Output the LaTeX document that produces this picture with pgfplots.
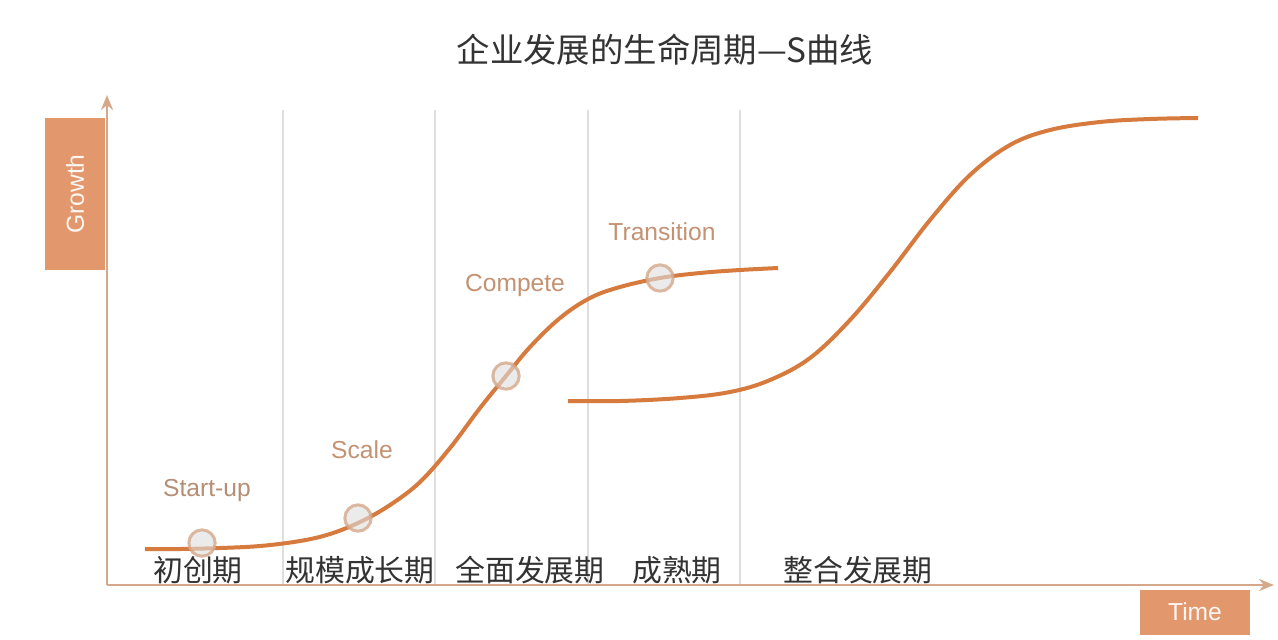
\documentclass[border=0pt]{standalone}
\usepackage{fontspec}
\setmainfont{Noto Sans CJK SC}
\newfontfamily\latin{Liberation Sans}
\usepackage{pgfplots}
\pgfplotsset{compat=1.18}
\usetikzlibrary{arrows.meta}
\definecolor{curve}{RGB}{214,122,62}
\definecolor{axisc}{RGB}{214,168,138}
\definecolor{boxc}{RGB}{226,152,108}
\definecolor{lab}{RGB}{196,146,114}
\definecolor{sep}{RGB}{222,222,222}
\begin{document}
\begin{tikzpicture}
\begin{axis}[
  scale only axis, width=255.6mm, height=127.8mm,
  xmin=0, xmax=1278, ymin=0, ymax=639, y dir=reverse,
  hide axis, clip=false,
]
% background to fix bounding box
\fill[white] (axis cs:0,0) rectangle (axis cs:1278,639);
% separators
\foreach \xx in {283,435,588,740} {
  \edef\tmp{\noexpand\draw[sep, line width=0.4mm] (axis cs:\xx,110) -- (axis cs:\xx,585);}\tmp
}
% axes
\draw[axisc, line width=0.5mm, -{Stealth[length=3mm,width=2.4mm]}] (axis cs:107,585) -- (axis cs:107,95);
\draw[axisc, line width=0.5mm, -{Stealth[length=3mm,width=2.4mm]}] (axis cs:107,585) -- (axis cs:1274,585);
% boxes
\fill[boxc] (axis cs:45,118) rectangle (axis cs:105,270);
\node[rotate=90, text=white!92!boxc, font=\latin\fontsize{14}{16}\selectfont] at (axis cs:75,194) {Growth};
\fill[boxc] (axis cs:1140,590) rectangle (axis cs:1250,635);
\node[text=white!92!boxc, font=\latin\fontsize{14}{16}\selectfont] at (axis cs:1195,612) {Time};
% title
\node[text=black!80, font=\fontsize{19}{22}\selectfont] at (axis cs:665,50) {企业发展的生命周期—S曲线};
% curves
\addplot[curve, line width=0.8mm, smooth, tension=0.6] coordinates {
(145,549) (180,549) (220,548) (260,546) (300,541) (330,534) (360,522) (390,505) (420,482) (450,448) (480,408) (506,376) (530,347) (560,318) (590,298) (620,287) (660,278) (700,273) (740,270) (778,268)};
\addplot[curve, line width=0.8mm, smooth, tension=0.6] coordinates {
(568,401) (620,401) (680,398) (730,392) (770,380) (810,358) (850,320) (890,272) (930,220) (970,175) (1010,145) (1050,130) (1100,122) (1150,119) (1198,118)};
% circles
\addplot[only marks, mark=*, mark size=7.5pt, mark options={fill=gray!25, fill opacity=0.6, draw=axisc, line width=0.6mm, draw opacity=0.8}] coordinates {
(202,543) (358,518) (506,376) (660,278)};
% stage labels
\node[text=lab!80!gray, font=\latin\fontsize{14}{16}\selectfont] at (axis cs:207,490) {Start-up};
\node[text=lab, font=\latin\fontsize{14}{16}\selectfont] at (axis cs:362,450) {Scale};
\node[text=lab, font=\latin\fontsize{14}{16}\selectfont] at (axis cs:515,285) {Compete};
\node[text=lab, font=\latin\fontsize{14}{16}\selectfont] at (axis cs:662,232) {Transition};
% period labels
\foreach \xx/\tt in {198/初创期,360/规模成长期,530/全面发展期,677/成熟期,858/整合发展期} {
  \edef\tmp{\noexpand\node[text=black!80, font=\noexpand\fontsize{17}{20}\noexpand\selectfont] at (axis cs:\xx,570) {\tt};}\tmp
}
\end{axis}
\end{tikzpicture}
\end{document}
